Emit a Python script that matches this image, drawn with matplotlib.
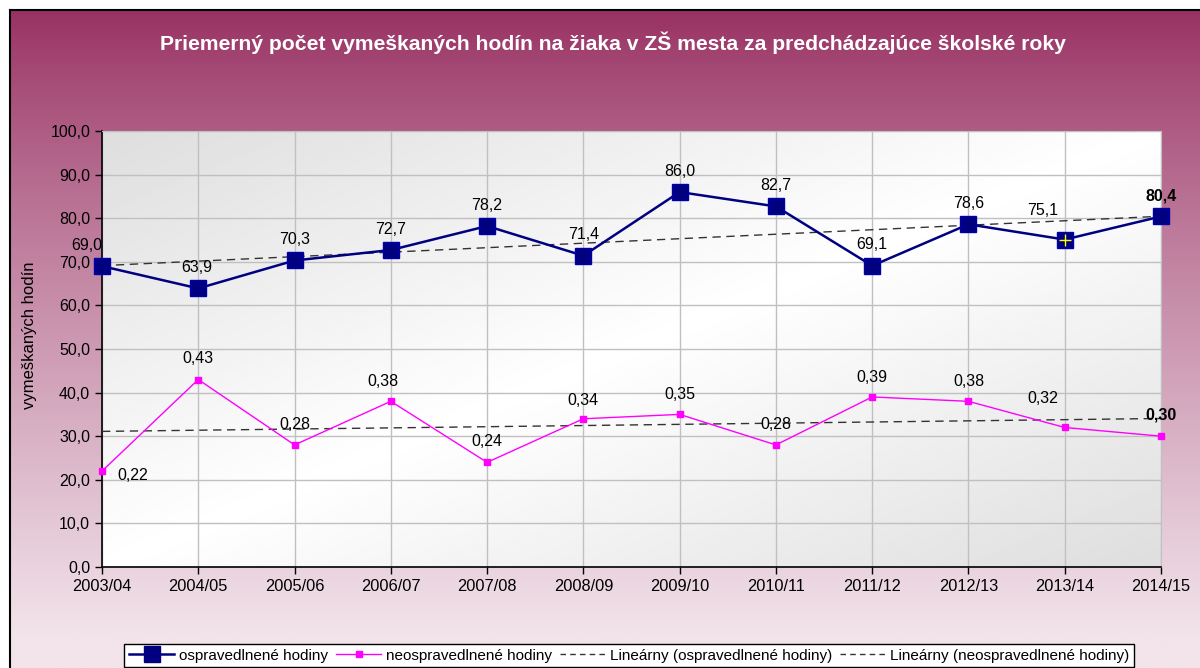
import numpy as np
import matplotlib
matplotlib.use("Agg")
import matplotlib.pyplot as plt
from matplotlib.lines import Line2D

plt.rcParams['font.family'] = ['Liberation Sans', 'DejaVu Sans']

years = ['2003/04', '2004/05', '2005/06', '2006/07', '2007/08', '2008/09',
         '2009/10', '2010/11', '2011/12', '2012/13', '2013/14', '2014/15']
ospravedlnene = [69.0, 63.9, 70.3, 72.7, 78.2, 71.4, 86.0, 82.7, 69.1, 78.6, 75.1, 80.4]
# unexcused hours are plotted x100 on the same axis, labels show the real value
neospravedlnene = [0.22, 0.43, 0.28, 0.38, 0.24, 0.34, 0.35, 0.28, 0.39, 0.38, 0.32, 0.30]

# label offsets in points (dx, dy)
off1 = [(-11, 15), (-1, 15), (0, 15), (0, 15), (0, 15), (0, 15),
        (0, 15), (0, 15), (0, 15), (0, 15), (-16, 21), (0, 15)]
off2 = [(22, -3), (0, 15), (0, 15), (-6, 14), (0, 15), (0, 13),
        (0, 14), (0, 15), (0, 14), (0, 14), (-16, 21), (0, 15)]

W, H = 1200, 668
fig = plt.figure(figsize=(W / 100, H / 100), dpi=100)
fig.patch.set_facecolor('white')

# background gradient of the chart frame
bg = fig.add_axes([10 / W, 0, 1 - 10 / W, 1 - 10 / H], zorder=0)
top = np.array([152, 48, 98]) / 255
bot = np.array([242, 228, 235]) / 255
t = np.linspace(0, 1, 300)[:, None]
t = np.clip(t * 1.05, 0, 1) ** 0.85
grad = top + (bot - top) * t
bg.imshow(grad[:, None, :], aspect='auto', extent=[0, 1, 0, 1])
bg.set_xlim(0, 1)
bg.set_ylim(0, 1)
bg.axis('off')
fig.add_artist(Line2D([10 / W, 10 / W], [0, 1 - 10 / H], color='black', lw=1.5))
fig.add_artist(Line2D([10 / W, 1], [1 - 10 / H, 1 - 10 / H], color='black', lw=1.5))

ax = fig.add_axes([102 / W, 1 - 567 / H, (1161 - 102) / W, (567 - 131) / H], zorder=1)
x = np.arange(len(years))

# plot area gradient (diagonal gray - white - gray)
u, v = np.meshgrid(np.linspace(0, 1, 200), np.linspace(1, 0, 200))
d = (u + (1 - v)) / 2
g = 1 - 0.13 * np.abs(d - 0.5) * 2
ax.imshow(g, cmap='gray', vmin=0, vmax=1, aspect='auto',
          extent=[0, 11, 0, 100], zorder=0)

ax.set_xlim(0, 11)
ax.set_ylim(0, 100)
ax.set_yticks(np.arange(0, 101, 10))
ax.set_yticklabels([f'{v:.1f}'.replace('.', ',') for v in np.arange(0, 101, 10)], fontsize=11.5)
ax.set_xticks(x)
ax.set_xticklabels(years, fontsize=11.8)
ax.grid(True, color='#c0c0c0', lw=1, zorder=1)
ax.tick_params(direction='out', length=5, width=1, color='black')
for s in ['top', 'right']:
    ax.spines[s].set_color('#c0c0c0')
for s in ['left', 'bottom']:
    ax.spines[s].set_color('black')
    ax.spines[s].set_linewidth(1.2)

y2 = np.array(neospravedlnene) * 100

ax.plot(x, ospravedlnene, color='#000080', lw=1.8, marker='s', markersize=11,
        markerfacecolor='#000080', markeredgecolor='#0000aa', zorder=4, clip_on=False)
ax.plot(x, y2, color='#ff00ff', lw=1, marker='s', markersize=4.5,
        markerfacecolor='#ff00ff', markeredgecolor='#ff00ff', zorder=4, clip_on=False)
ax.plot(x[10], ospravedlnene[10], marker='+', color='yellow', markersize=8, mew=1, zorder=5)

k1, q1 = np.polyfit(x, ospravedlnene, 1)
k2, q2 = np.polyfit(x, y2, 1)
ax.plot(x, k1 * x + q1, color='#333333', lw=1, ls=(0, (6, 4)), zorder=3)
ax.plot(x, k2 * x + q2, color='#333333', lw=1, ls=(0, (6, 4)), zorder=3)

last = len(years) - 1
for i, v in enumerate(ospravedlnene):
    ax.annotate(f'{v:.1f}'.replace('.', ','), (x[i], v), xytext=off1[i],
                textcoords='offset points', ha='center', va='center', fontsize=11.5,
                fontweight='bold' if i == last else 'normal', zorder=6, annotation_clip=False)
for i, v in enumerate(neospravedlnene):
    ax.annotate(f'{v:.2f}'.replace('.', ','), (x[i], y2[i]), xytext=off2[i],
                textcoords='offset points', ha='center', va='center', fontsize=11.5,
                fontweight='bold' if i == last else 'normal', zorder=6, annotation_clip=False)

ax.set_ylabel('vymeškaných hodín', fontsize=12)
ax.yaxis.set_label_coords(-0.061, 0.532)

fig.text(613 / W, 1 - 43 / H,
         'Priemerný počet vymeškaných hodín na žiaka v ZŠ mesta za predchádzajúce školské roky',
         color='white', fontsize=15.2, fontweight='bold', ha='center', va='center')

handles = [
    Line2D([], [], color='#000080', lw=1.8, marker='s', markersize=11, markerfacecolor='#000080'),
    Line2D([], [], color='#ff00ff', lw=1, marker='s', markersize=4.5, markerfacecolor='#ff00ff'),
    Line2D([], [], color='#333333', lw=1, ls=(0, (4, 3))),
    Line2D([], [], color='#333333', lw=1, ls=(0, (4, 3))),
]
labels = ['ospravedlnené hodiny', 'neospravedlnené hodiny',
          'Lineárny (ospravedlnené hodiny)', 'Lineárny (neospravedlnené hodiny)']
leg = fig.legend(handles, labels, loc='upper left', bbox_to_anchor=(124 / W, 1 - 644 / H),
                 ncol=4, fontsize=11, frameon=True, fancybox=False, handlelength=3,
                 columnspacing=0.5, handletextpad=0.3, borderpad=0.3, borderaxespad=0)
leg.get_frame().set_edgecolor('black')
leg.get_frame().set_linewidth(1)
leg.get_frame().set_facecolor('white')
leg.get_frame().set_alpha(1)

fig.savefig('out.png', dpi=100)
